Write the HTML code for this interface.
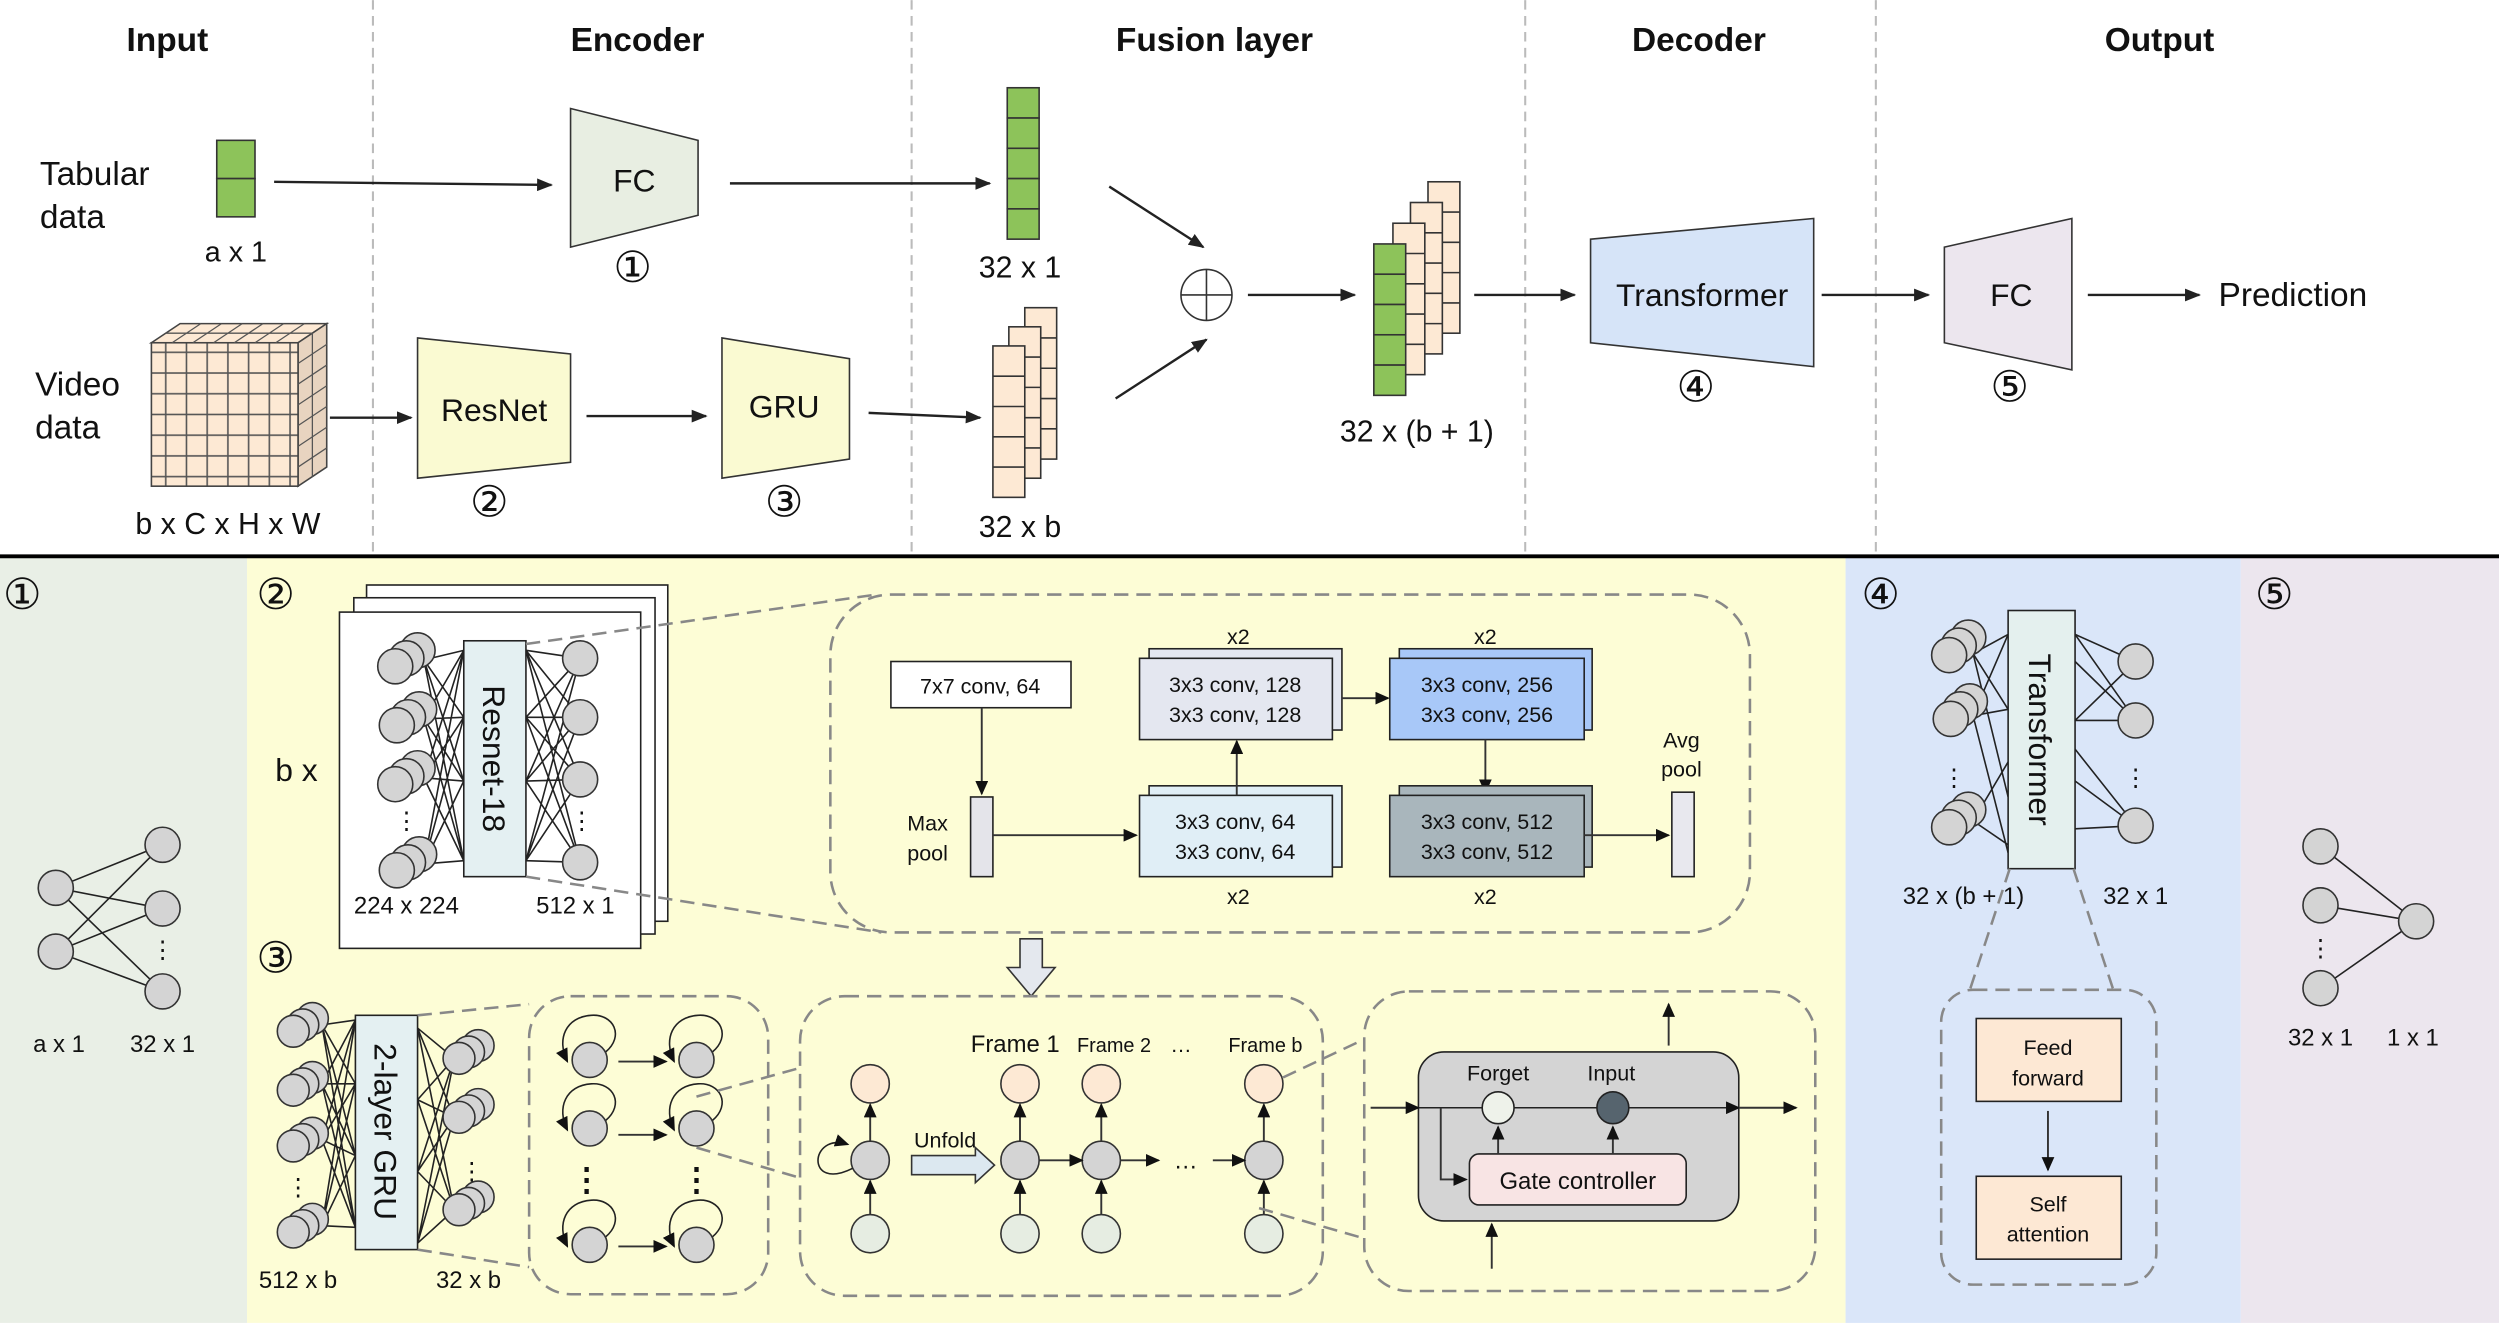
<!DOCTYPE html>
<html><head><meta charset="utf-8"><style>
html,body{margin:0;padding:0;background:#fff}
svg{display:block}
text{font-family:"Liberation Sans",Arial,sans-serif;fill:#111}
.h{font-size:21px;font-weight:bold;text-anchor:middle}
.t{font-size:21px}
.m{font-size:20px;text-anchor:middle}
.n{font-size:27px;text-anchor:middle;font-family:"DejaVu Sans",sans-serif}
.s{font-size:15px;text-anchor:middle}
.xs{font-size:13.5px;text-anchor:middle}
.c{fill:#d4d4d4;stroke:#333;stroke-width:1}
.ln{stroke:#222;stroke-width:1;fill:none}
.ds{stroke:#888;stroke-width:1.6;fill:none;stroke-dasharray:9 5}
.ar{stroke:#222;stroke-width:1.5;fill:none;marker-end:url(#a)}
.ar2{stroke:#333;stroke-width:1.2;fill:none;marker-end:url(#a2)}
</style></head><body>
<svg width="2499" height="1323" viewBox="0 0 1568 830" xmlns="http://www.w3.org/2000/svg">
<defs>
<marker id="a" markerWidth="10" markerHeight="8" refX="9" refY="4" orient="auto" markerUnits="userSpaceOnUse"><path d="M0,0 L10,4 L0,8z" fill="#222"/></marker>
<marker id="a2" markerWidth="9" markerHeight="8" refX="8" refY="4" orient="auto" markerUnits="userSpaceOnUse"><path d="M0,0 L9,4 L0,8z" fill="#111"/></marker>
</defs>
<rect x="0" y="0" width="1568" height="349" fill="#fff"/>
<rect x="0" y="349" width="155" height="481" fill="#e9efe6"/>
<rect x="155" y="349" width="1003" height="481" fill="#fdfdd6"/>
<rect x="1158" y="349" width="248" height="481" fill="#dae6f9"/>
<rect x="1406" y="349" width="162" height="481" fill="#ece6ee"/>
<line x1="0" y1="349" x2="1568" y2="349" stroke="#000" stroke-width="2.5"/>
<g stroke="#bbb" stroke-width="1.3" stroke-dasharray="6 4">
<line x1="234" y1="0" x2="234" y2="348"/><line x1="572" y1="0" x2="572" y2="348"/>
<line x1="957" y1="0" x2="957" y2="348"/><line x1="1177" y1="0" x2="1177" y2="348"/>
</g>
<text class="h" x="105" y="32">Input</text>
<text class="h" x="400" y="32">Encoder</text>
<text class="h" x="762" y="32">Fusion layer</text>
<text class="h" x="1066" y="32">Decoder</text>
<text class="h" x="1355" y="32">Output</text>

<text class="t" x="25" y="116">Tabular</text><text class="t" x="25" y="143">data</text>
<g stroke="#333" fill="#8dc35a"><rect x="136" y="88" width="24" height="24"/><rect x="136" y="112" width="24" height="24"/></g>
<text class="m" x="148" y="164" style="font-size:18px">a x 1</text>
<line class="ar" x1="172" y1="114" x2="346" y2="116"/>
<polygon points="358,68 438,88 438,135 358,155" fill="#e8eee2" stroke="#333"/>
<text class="m" x="398" y="120">FC</text><text class="n" x="397" y="177">①</text>
<line class="ar" x1="458" y1="115" x2="621" y2="115"/>
<g stroke="#333" fill="#8dc35a"><rect x="632" y="55" width="20" height="19"/><rect x="632" y="74" width="20" height="19"/><rect x="632" y="93" width="20" height="19"/><rect x="632" y="112" width="20" height="19"/><rect x="632" y="131" width="20" height="19"/></g>
<text class="m" x="640" y="174" style="font-size:19px">32 x 1</text>

<text class="t" x="22" y="248">Video</text><text class="t" x="22" y="275">data</text>
<defs><pattern id="g" width="13" height="13" patternUnits="userSpaceOnUse"><rect width="13" height="13" fill="#fde9d4" stroke="#555" stroke-width="1"/></pattern></defs>
<polygon points="95,215 113,203 205,203 187,215" fill="#fde9d4" stroke="#444"/>
<polygon points="187,215 205,203 205,293 187,305" fill="#e8d4c0" stroke="#444"/>
<rect x="95" y="215" width="92" height="90" fill="url(#g)" stroke="#444"/>
<g stroke="#555" stroke-width="0.8"><line x1="108" y1="215" x2="126" y2="203"/><line x1="121" y1="215" x2="139" y2="203"/><line x1="134" y1="215" x2="152" y2="203"/><line x1="147" y1="215" x2="165" y2="203"/><line x1="160" y1="215" x2="178" y2="203"/><line x1="173" y1="215" x2="191" y2="203"/><line x1="104" y1="209" x2="196" y2="209"/>
<line x1="187" y1="228" x2="205" y2="216"/><line x1="187" y1="241" x2="205" y2="229"/><line x1="187" y1="254" x2="205" y2="242"/><line x1="187" y1="267" x2="205" y2="255"/><line x1="187" y1="280" x2="205" y2="268"/><line x1="187" y1="293" x2="205" y2="281"/><line x1="196" y1="209" x2="196" y2="299"/></g>
<text class="m" x="143" y="335" style="font-size:19px">b x C x H x W</text>
<line class="ar" x1="207" y1="262" x2="258" y2="262"/>
<polygon points="262,212 358,222 358,290 262,300" fill="#fafad2" stroke="#333"/>
<text class="m" x="310" y="264">ResNet</text><text class="n" x="307" y="324">②</text>
<line class="ar" x1="368" y1="261" x2="443" y2="261"/>
<polygon points="453,212 533,225 533,288 453,300" fill="#fafad2" stroke="#333"/>
<text class="m" x="492" y="262">GRU</text><text class="n" x="492" y="324">③</text>
<line class="ar" x1="545" y1="259" x2="615" y2="262"/>
<g stroke="#333" fill="#fde9d4">
<rect x="643" y="193" width="20" height="95"/><line x1="643" y1="212" x2="663" y2="212"/><line x1="643" y1="231" x2="663" y2="231"/><line x1="643" y1="250" x2="663" y2="250"/><line x1="643" y1="269" x2="663" y2="269"/>
<rect x="633" y="205" width="20" height="95"/><line x1="633" y1="224" x2="653" y2="224"/><line x1="633" y1="243" x2="653" y2="243"/><line x1="633" y1="262" x2="653" y2="262"/><line x1="633" y1="281" x2="653" y2="281"/>
<rect x="623" y="217" width="20" height="95"/><line x1="623" y1="236" x2="643" y2="236"/><line x1="623" y1="255" x2="643" y2="255"/><line x1="623" y1="274" x2="643" y2="274"/><line x1="623" y1="293" x2="643" y2="293"/>
</g>
<text class="m" x="640" y="337" style="font-size:19px">32 x b</text>
<line class="ar" x1="696" y1="117" x2="755" y2="155"/>
<line class="ar" x1="700" y1="250" x2="757" y2="213"/>
<circle cx="757" cy="185" r="16" fill="#fff" stroke="#333"/>
<line x1="741" y1="185" x2="773" y2="185" stroke="#333"/><line x1="757" y1="169" x2="757" y2="201" stroke="#333"/>
<line class="ar" x1="783" y1="185" x2="850" y2="185"/>
<g stroke="#333" fill="#fde9d4">
<rect x="896" y="114" width="20" height="95"/><line x1="896" y1="133" x2="916" y2="133"/><line x1="896" y1="152" x2="916" y2="152"/><line x1="896" y1="171" x2="916" y2="171"/><line x1="896" y1="190" x2="916" y2="190"/>
<rect x="885" y="127" width="20" height="95"/><line x1="885" y1="146" x2="905" y2="146"/><line x1="885" y1="165" x2="905" y2="165"/><line x1="885" y1="184" x2="905" y2="184"/><line x1="885" y1="203" x2="905" y2="203"/>
<rect x="874" y="140" width="20" height="95"/><line x1="874" y1="159" x2="894" y2="159"/><line x1="874" y1="178" x2="894" y2="178"/><line x1="874" y1="197" x2="894" y2="197"/><line x1="874" y1="216" x2="894" y2="216"/>
</g>
<g stroke="#333" fill="#8dc35a"><rect x="862" y="153" width="20" height="19"/><rect x="862" y="172" width="20" height="19"/><rect x="862" y="191" width="20" height="19"/><rect x="862" y="210" width="20" height="19"/><rect x="862" y="229" width="20" height="19"/></g>
<text class="m" x="889" y="277" style="font-size:19px">32 x (b + 1)</text>
<line class="ar" x1="925" y1="185" x2="988" y2="185"/>
<polygon points="998,150 1138,137 1138,230 998,215" fill="#d6e4f8" stroke="#333"/>
<text class="m" x="1068" y="192">Transformer</text><text class="n" x="1064" y="252">④</text>
<line class="ar" x1="1143" y1="185" x2="1210" y2="185"/>
<polygon points="1220,155 1300,137 1300,232 1220,215" fill="#ece6ee" stroke="#333"/>
<text class="m" x="1262" y="192">FC</text><text class="n" x="1261" y="252">⑤</text>
<line class="ar" x1="1310" y1="185" x2="1380" y2="185"/>
<text class="t" x="1392" y="192">Prediction</text>

<!-- panel 1 -->
<text class="n" x="14" y="382">①</text>
<g class="ln"><path d="M35,557 L102,530 M35,557 L102,570 M35,557 L102,622 M35,597 L102,530 M35,597 L102,570 M35,597 L102,622"/></g>
<circle class="c" cx="35" cy="557" r="11"/><circle class="c" cx="35" cy="597" r="11"/>
<circle class="c" cx="102" cy="530" r="11"/><circle class="c" cx="102" cy="570" r="11"/><circle class="c" cx="102" cy="622" r="11"/>
<text class="s" x="102" y="601">⋮</text>
<text class="s" x="37" y="660">a x 1</text><text class="s" x="102" y="660">32 x 1</text>

<!-- panel 2 -->
<text class="n" x="173" y="382">②</text>
<text class="m" x="186" y="490">b x</text>
<rect x="230" y="367" width="189" height="211" fill="#fff" stroke="#222"/>
<rect x="222" y="375" width="189" height="211" fill="#fff" stroke="#222"/>
<rect x="213" y="384" width="189" height="211" fill="#fff" stroke="#222"/>
<g class="ln">
<path d="M266,414 L291,408 M266,414 L291,450 M266,414 L291,490 M266,414 L291,540 M266,451 L291,408 M266,451 L291,450 M266,451 L291,490 M266,451 L291,540 M266,488 L291,408 M266,488 L291,450 M266,488 L291,490 M266,488 L291,540 M266,542 L291,408 M266,542 L291,450 M266,542 L291,490 M266,542 L291,540"/>
<path d="M330,408 L364,413 M330,408 L364,450 M330,408 L364,489 M330,408 L364,541 M330,450 L364,413 M330,450 L364,450 M330,450 L364,489 M330,450 L364,541 M330,490 L364,413 M330,490 L364,450 M330,490 L364,489 M330,490 L364,541 M330,540 L364,413 M330,540 L364,450 M330,540 L364,489 M330,540 L364,541"/>
</g>
<g>
<circle class="c" cx="262" cy="408" r="11"/><circle class="c" cx="255" cy="413" r="11"/><circle class="c" cx="248" cy="418" r="11"/>
<circle class="c" cx="263" cy="445" r="11"/><circle class="c" cx="256" cy="450" r="11"/><circle class="c" cx="249" cy="455" r="11"/>
<circle class="c" cx="262" cy="482" r="11"/><circle class="c" cx="255" cy="487" r="11"/><circle class="c" cx="248" cy="492" r="11"/>
<circle class="c" cx="263" cy="536" r="11"/><circle class="c" cx="256" cy="541" r="11"/><circle class="c" cx="249" cy="546" r="11"/>
<circle class="c" cx="364" cy="413" r="11"/><circle class="c" cx="364" cy="450" r="11"/><circle class="c" cx="364" cy="489" r="11"/><circle class="c" cx="364" cy="541" r="11"/>
</g>
<text class="s" x="255" y="520">⋮</text><text class="s" x="365" y="520">⋮</text>
<rect x="291" y="402" width="39" height="148" fill="#e4f0f2" stroke="#222"/>
<text x="303" y="476" transform="rotate(90 303 476)" style="font-size:20px;text-anchor:middle">Resnet-18</text>
<text class="s" x="255" y="573">224 x 224</text><text class="s" x="361" y="573">512 x 1</text>
<line class="ds" x1="330" y1="404" x2="550" y2="373"/><line class="ds" x1="330" y1="550" x2="553" y2="585"/>
<rect x="521" y="373" width="577" height="212" rx="38" class="ds"/>
<rect x="559" y="415" width="113" height="29" fill="#fff" stroke="#222"/><text class="xs" x="615" y="435">7x7 conv, 64</text>
<line class="ar2" x1="616" y1="444" x2="616" y2="498"/>
<rect x="609" y="500" width="14" height="50" fill="#e4e4ea" stroke="#222"/>
<text class="xs" x="582" y="521">Max</text><text class="xs" x="582" y="540">pool</text>
<line class="ar2" x1="623" y1="524" x2="713" y2="524"/>
<rect x="721" y="493" width="121" height="51" fill="#e0eef6" stroke="#222"/>
<rect x="715" y="499" width="121" height="51" fill="#e0eef6" stroke="#222"/>
<text class="xs" x="775" y="520">3x3 conv, 64</text><text class="xs" x="775" y="539">3x3 conv, 64</text>
<text class="xs" x="777" y="567">x2</text>
<line class="ar2" x1="776" y1="499" x2="776" y2="465"/>
<rect x="721" y="407" width="121" height="51" fill="#e4e7f0" stroke="#222"/>
<rect x="715" y="413" width="121" height="51" fill="#e4e7f0" stroke="#222"/>
<text class="xs" x="775" y="434">3x3 conv, 128</text><text class="xs" x="775" y="453">3x3 conv, 128</text>
<text class="xs" x="777" y="404">x2</text>
<line class="ar2" x1="842" y1="438" x2="871" y2="438"/>
<rect x="878" y="407" width="121" height="51" fill="#a8c8f8" stroke="#222"/>
<rect x="872" y="413" width="122" height="51" fill="#a8c8f8" stroke="#222"/>
<text class="xs" x="933" y="434">3x3 conv, 256</text><text class="xs" x="933" y="453">3x3 conv, 256</text>
<text class="xs" x="932" y="404">x2</text>
<line class="ar2" x1="932" y1="464" x2="932" y2="497"/>
<rect x="878" y="493" width="121" height="51" fill="#a9b6bc" stroke="#222"/>
<rect x="872" y="499" width="122" height="51" fill="#a9b6bc" stroke="#222"/>
<text class="xs" x="933" y="520">3x3 conv, 512</text><text class="xs" x="933" y="539">3x3 conv, 512</text>
<text class="xs" x="932" y="567">x2</text>
<line class="ar2" x1="994" y1="524" x2="1047" y2="524"/>
<rect x="1049" y="497" width="14" height="53" fill="#e8e8ee" stroke="#222"/>
<text class="xs" x="1055" y="469">Avg</text><text class="xs" x="1055" y="487">pool</text>
<polygon points="640,589 654,589 654,607 662,607 647,625 632,607 640,607" fill="#e4e8ee" stroke="#333"/>

<!-- panel 3 -->
<text class="n" x="173" y="610">③</text>
<g class="ln">
<path d="M202,643 L223,640 M202,643 L223,680 M202,643 L223,725 M202,643 L223,770 M202,680 L223,640 M202,680 L223,680 M202,680 L223,725 M202,680 L223,770 M202,715 L223,640 M202,715 L223,680 M202,715 L223,725 M202,715 L223,770 M202,769 L223,640 M202,769 L223,680 M202,769 L223,725 M202,769 L223,770"/>
<path d="M262,645 L285,664 M262,645 L285,701 M262,645 L285,759 M262,690 L285,664 M262,690 L285,701 M262,690 L285,759 M262,735 L285,664 M262,735 L285,701 M262,735 L285,759 M262,780 L285,664 M262,780 L285,701 M262,780 L285,759"/>
</g>
<g>
<circle class="c" cx="196" cy="639" r="10"/><circle class="c" cx="190" cy="643" r="10"/><circle class="c" cx="184" cy="647" r="10"/>
<circle class="c" cx="196" cy="676" r="10"/><circle class="c" cx="190" cy="680" r="10"/><circle class="c" cx="184" cy="684" r="10"/>
<circle class="c" cx="196" cy="711" r="10"/><circle class="c" cx="190" cy="715" r="10"/><circle class="c" cx="184" cy="719" r="10"/>
<circle class="c" cx="196" cy="765" r="10"/><circle class="c" cx="190" cy="769" r="10"/><circle class="c" cx="184" cy="773" r="10"/>
<circle class="c" cx="300" cy="656" r="10"/><circle class="c" cx="294" cy="660" r="10"/><circle class="c" cx="288" cy="664" r="10"/>
<circle class="c" cx="300" cy="693" r="10"/><circle class="c" cx="294" cy="697" r="10"/><circle class="c" cx="288" cy="701" r="10"/>
<circle class="c" cx="300" cy="751" r="10"/><circle class="c" cx="294" cy="755" r="10"/><circle class="c" cx="288" cy="759" r="10"/>
</g>
<text class="s" x="187" y="750">⋮</text><text class="s" x="296" y="740">⋮</text>
<rect x="223" y="637" width="39" height="147" fill="#e4f0f2" stroke="#222"/>
<text x="235" y="710" transform="rotate(90 235 710)" style="font-size:20px;text-anchor:middle">2-layer GRU</text>
<text class="s" x="187" y="808">512 x b</text><text class="s" x="294" y="808">32 x b</text>
<line class="ds" x1="262" y1="637" x2="332" y2="630"/><line class="ds" x1="262" y1="784" x2="332" y2="795"/>
<rect x="332" y="625" width="150" height="187" rx="26" class="ds"/>
<g>
<path d="M380,660 C392,650 385,636 371,637 C355,638 349,652 356,666" class="ln" stroke-width="1.4" marker-end="url(#a2)"/>
<path d="M447,660 C459,650 452,636 438,637 C422,638 416,652 423,666" class="ln" stroke-width="1.4" marker-end="url(#a2)"/>
<path d="M380,703 C392,693 385,679 371,680 C355,681 349,695 356,709" class="ln" stroke-width="1.4" marker-end="url(#a2)"/>
<path d="M447,703 C459,693 452,679 438,680 C422,681 416,695 423,709" class="ln" stroke-width="1.4" marker-end="url(#a2)"/>
<path d="M380,776 C392,766 385,752 371,753 C355,754 349,768 356,782" class="ln" stroke-width="1.4" marker-end="url(#a2)"/>
<path d="M447,776 C459,766 452,752 438,753 C422,754 416,768 423,782" class="ln" stroke-width="1.4" marker-end="url(#a2)"/>
<circle class="c" cx="370" cy="665" r="11"/><circle class="c" cx="437" cy="665" r="11"/>
<circle class="c" cx="370" cy="708" r="11"/><circle class="c" cx="437" cy="708" r="11"/>
<circle class="c" cx="370" cy="781" r="11"/><circle class="c" cx="437" cy="781" r="11"/>
<line class="ar2" x1="388" y1="666" x2="418" y2="666" stroke-width="2"/>
<line class="ar2" x1="388" y1="712" x2="418" y2="712" stroke-width="2"/>
<line class="ar2" x1="388" y1="782" x2="418" y2="782" stroke-width="2"/>
</g>
<text class="m" x="368" y="747" style="font-weight:bold">⋮</text><text class="m" x="437" y="747" style="font-weight:bold">⋮</text>
<line class="ds" x1="437" y1="688" x2="502" y2="670"/><line class="ds" x1="437" y1="720" x2="502" y2="739"/>
<rect x="502" y="625" width="328" height="188" rx="28" class="ds"/>
<g>
<circle cx="546" cy="680" r="12" fill="#fde9d4" stroke="#333"/>
<circle class="c" cx="546" cy="728" r="12"/>
<circle cx="546" cy="774" r="12" fill="#e6ede2" stroke="#333"/>
<line class="ar2" x1="546" y1="716" x2="546" y2="693"/><line class="ar2" x1="546" y1="762" x2="546" y2="741"/>
<path d="M535,733 C505,748 508,710 532,718" class="ln" stroke-width="1.2" marker-end="url(#a2)"/>
<text class="xs" x="593" y="720">Unfold</text>
<polygon points="572,725 612,725 612,720 624,731 612,742 612,737 572,737" fill="#dce8f0" stroke="#333"/>
<circle cx="640" cy="680" r="12" fill="#fde9d4" stroke="#333"/><circle class="c" cx="640" cy="728" r="12"/><circle cx="640" cy="774" r="12" fill="#e6ede2" stroke="#333"/>
<circle cx="691" cy="680" r="12" fill="#fde9d4" stroke="#333"/><circle class="c" cx="691" cy="728" r="12"/><circle cx="691" cy="774" r="12" fill="#e6ede2" stroke="#333"/>
<circle cx="793" cy="680" r="12" fill="#fde9d4" stroke="#333"/><circle class="c" cx="793" cy="728" r="12"/><circle cx="793" cy="774" r="12" fill="#e6ede2" stroke="#333"/>
<line class="ar2" x1="640" y1="716" x2="640" y2="693"/><line class="ar2" x1="640" y1="762" x2="640" y2="741"/>
<line class="ar2" x1="691" y1="716" x2="691" y2="693"/><line class="ar2" x1="691" y1="762" x2="691" y2="741"/>
<line class="ar2" x1="793" y1="716" x2="793" y2="693"/><line class="ar2" x1="793" y1="762" x2="793" y2="741"/>
<line class="ar2" x1="652" y1="728" x2="679" y2="728" stroke-width="2"/>
<line class="ar2" x1="703" y1="728" x2="727" y2="728" stroke-width="2"/>
<line class="ar2" x1="761" y1="728" x2="781" y2="728" stroke-width="2"/>
<text class="s" x="744" y="733">…</text>
</g>
<text class="s" x="637" y="660">Frame 1</text><text class="xs" x="699" y="660" style="font-size:12.5px">Frame 2</text>
<text class="xs" x="741" y="660">…</text><text class="xs" x="794" y="660" style="font-size:12.5px">Frame b</text>
<line class="ds" x1="805" y1="676" x2="856" y2="652"/><line class="ds" x1="790" y1="758" x2="856" y2="777"/>
<rect x="856" y="622" width="283" height="188" rx="28" class="ds"/>
<rect x="890" y="660" width="201" height="106" rx="16" fill="#d4d4d4" stroke="#222"/>
<line class="ar2" x1="860" y1="695" x2="890" y2="695"/>
<line x1="890" y1="695" x2="1085" y2="695" stroke="#222"/>
<line class="ar2" x1="1085" y1="695" x2="1091" y2="695"/>
<line class="ar2" x1="1091" y1="695" x2="1127" y2="695"/>
<path d="M904,695 L904,740 L920,740" class="ar2"/>
<rect x="922" y="724" width="136" height="32" rx="6" fill="#f8e4e4" stroke="#222"/>
<text class="s" x="990" y="746">Gate controller</text>
<line class="ar2" x1="940" y1="724" x2="940" y2="707"/><line class="ar2" x1="1012" y1="724" x2="1012" y2="707"/>
<circle cx="940" cy="695" r="10" fill="#eef2ea" stroke="#222"/>
<circle cx="1012" cy="695" r="10" fill="#56646e" stroke="#222"/>
<text class="xs" x="940" y="678">Forget</text><text class="xs" x="1011" y="678">Input</text>
<line class="ar2" x1="936" y1="796" x2="936" y2="768"/>
<line class="ar2" x1="1047" y1="656" x2="1047" y2="630"/>

<!-- panel 4 -->
<text class="n" x="1180" y="382">④</text>
<g class="ln">
<path d="M1238,410 L1260,398 M1238,410 L1260,445 M1238,410 L1260,500 M1238,449 L1260,398 M1238,449 L1260,445 M1238,449 L1260,535 M1238,515 L1260,478 M1238,515 L1260,530"/>
<path d="M1302,398 L1340,415 M1302,398 L1340,452 M1302,452 L1340,415 M1302,452 L1340,452 M1302,415 L1340,452 M1302,490 L1340,518 M1302,520 L1340,518 M1302,470 L1340,518"/>
</g>
<circle class="c" cx="1235" cy="400" r="11"/><circle class="c" cx="1229" cy="405" r="11"/><circle class="c" cx="1223" cy="411" r="11"/>
<circle class="c" cx="1236" cy="440" r="11"/><circle class="c" cx="1230" cy="445" r="11"/><circle class="c" cx="1224" cy="451" r="11"/>
<circle class="c" cx="1235" cy="508" r="11"/><circle class="c" cx="1229" cy="513" r="11"/><circle class="c" cx="1223" cy="519" r="11"/>
<circle class="c" cx="1340" cy="415" r="11"/><circle class="c" cx="1340" cy="452" r="11"/><circle class="c" cx="1340" cy="518" r="11"/>
<text class="s" x="1226" y="493">⋮</text><text class="s" x="1340" y="493">⋮</text>
<rect x="1260" y="383" width="42" height="162" fill="#e4f0ee" stroke="#222"/>
<text x="1273" y="464" transform="rotate(90 1273 464)" style="font-size:20px;text-anchor:middle">Transformer</text>
<text class="s" x="1232" y="567">32 x (b + 1)</text><text class="s" x="1340" y="567">32 x 1</text>
<line class="ds" x1="1261" y1="545" x2="1236" y2="621"/><line class="ds" x1="1301" y1="545" x2="1326" y2="621"/>
<rect x="1218" y="621" width="135" height="185" rx="20" class="ds"/>
<rect x="1240" y="639" width="91" height="52" fill="#fde8d4" stroke="#222"/>
<text class="xs" x="1285" y="662">Feed</text><text class="xs" x="1285" y="681">forward</text>
<line class="ar2" x1="1285" y1="697" x2="1285" y2="734"/>
<rect x="1240" y="738" width="91" height="52" fill="#fde8d4" stroke="#222"/>
<text class="xs" x="1285" y="760">Self</text><text class="xs" x="1285" y="779">attention</text>

<!-- panel 5 -->
<text class="n" x="1427" y="382">⑤</text>
<g class="ln"><path d="M1456,531 L1516,578 M1456,568 L1516,578 M1456,620 L1516,578"/></g>
<circle class="c" cx="1456" cy="531" r="11"/><circle class="c" cx="1456" cy="568" r="11"/><circle class="c" cx="1456" cy="620" r="11"/>
<circle class="c" cx="1516" cy="578" r="11"/>
<text class="s" x="1456" y="600">⋮</text>
<text class="s" x="1456" y="656">32 x 1</text><text class="s" x="1514" y="656">1 x 1</text>
</svg>
</body></html>
